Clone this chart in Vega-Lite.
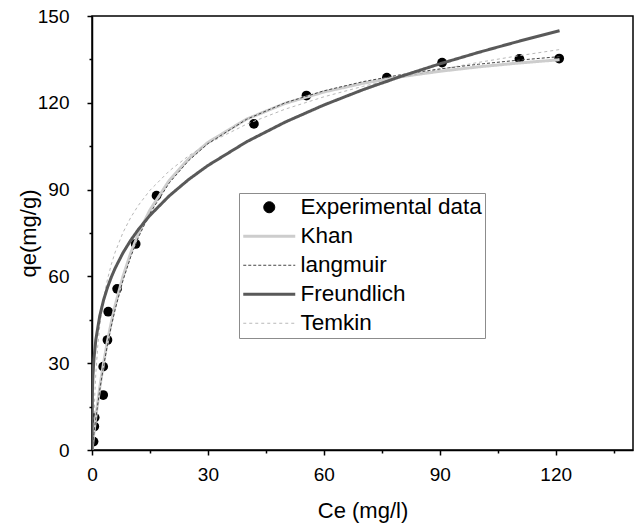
{
  "$schema": "https://vega.github.io/schema/vega-lite/v6.json",
  "width": 541,
  "height": 434,
  "autosize": {"type": "none"},
  "padding": {"left": 92, "top": 16, "right": 5, "bottom": 76},
  "background": "white",
  "config": {
    "view": {"stroke": "black", "strokeWidth": 1.5},
    "font": "Liberation Sans",
    "axis": {
      "domainColor": "black", "domainWidth": 1.5, "tickColor": "black", "tickWidth": 1.5,
      "labelFont": "Liberation Sans", "labelFontSize": 19, "labelColor": "black",
      "titleFont": "Liberation Sans", "titleFontSize": 22, "titleFontWeight": "normal", "titleColor": "black",
      "grid": false, "labelFlush": false, "labelOverlap": false
    }
  },
  "datasets": {
    "pts": [
      {"Ce": 0.4, "qe": 2.9}, {"Ce": 0.6, "qe": 8.1}, {"Ce": 0.7, "qe": 11.2},
      {"Ce": 2.9, "qe": 19.0}, {"Ce": 2.9, "qe": 28.8}, {"Ce": 4.0, "qe": 38.0},
      {"Ce": 4.2, "qe": 47.8}, {"Ce": 6.5, "qe": 55.7}, {"Ce": 11.3, "qe": 71.2},
      {"Ce": 16.7, "qe": 87.9}, {"Ce": 41.9, "qe": 112.7}, {"Ce": 55.5, "qe": 122.5},
      {"Ce": 76.3, "qe": 128.7}, {"Ce": 90.6, "qe": 133.9}, {"Ce": 110.6, "qe": 135.2},
      {"Ce": 120.9, "qe": 135.3}
    ],
    "fits": [
      {"series": "Khan", "Ce": 0, "qe": 0}, {"series": "Khan", "Ce": 0.1, "qe": 1.25}, {"series": "Khan", "Ce": 0.25, "qe": 3.08},
      {"series": "Khan", "Ce": 0.5, "qe": 6.03}, {"series": "Khan", "Ce": 1, "qe": 11.59}, {"series": "Khan", "Ce": 2, "qe": 21.5},
      {"series": "Khan", "Ce": 3, "qe": 30.07}, {"series": "Khan", "Ce": 4, "qe": 37.55}, {"series": "Khan", "Ce": 5, "qe": 44.14},
      {"series": "Khan", "Ce": 6, "qe": 49.99}, {"series": "Khan", "Ce": 8, "qe": 59.9}, {"series": "Khan", "Ce": 10, "qe": 68.0},
      {"series": "Khan", "Ce": 12, "qe": 74.73}, {"series": "Khan", "Ce": 15, "qe": 82.95}, {"series": "Khan", "Ce": 20, "qe": 93.19},
      {"series": "Khan", "Ce": 25, "qe": 100.64}, {"series": "Khan", "Ce": 30, "qe": 106.31}, {"series": "Khan", "Ce": 40, "qe": 114.36},
      {"series": "Khan", "Ce": 50, "qe": 119.81}, {"series": "Khan", "Ce": 60, "qe": 123.74}, {"series": "Khan", "Ce": 70, "qe": 126.71},
      {"series": "Khan", "Ce": 80, "qe": 129.03}, {"series": "Khan", "Ce": 90, "qe": 130.89}, {"series": "Khan", "Ce": 100, "qe": 132.42},
      {"series": "Khan", "Ce": 110, "qe": 133.7}, {"series": "Khan", "Ce": 121, "qe": 134.89},

      {"series": "Temkin", "Ce": 0.32, "qe": 0.11}, {"series": "Temkin", "Ce": 0.4, "qe": 5.31}, {"series": "Temkin", "Ce": 0.5, "qe": 10.51},
      {"series": "Temkin", "Ce": 0.75, "qe": 19.96}, {"series": "Temkin", "Ce": 1, "qe": 26.66}, {"series": "Temkin", "Ce": 1.5, "qe": 36.11},
      {"series": "Temkin", "Ce": 2, "qe": 42.81}, {"series": "Temkin", "Ce": 3, "qe": 52.26}, {"series": "Temkin", "Ce": 4, "qe": 58.96},
      {"series": "Temkin", "Ce": 5, "qe": 64.16}, {"series": "Temkin", "Ce": 6, "qe": 68.41}, {"series": "Temkin", "Ce": 8, "qe": 75.11},
      {"series": "Temkin", "Ce": 10, "qe": 80.31}, {"series": "Temkin", "Ce": 12, "qe": 84.56}, {"series": "Temkin", "Ce": 15, "qe": 89.76},
      {"series": "Temkin", "Ce": 20, "qe": 96.46}, {"series": "Temkin", "Ce": 25, "qe": 101.66}, {"series": "Temkin", "Ce": 30, "qe": 105.91},
      {"series": "Temkin", "Ce": 40, "qe": 112.61}, {"series": "Temkin", "Ce": 50, "qe": 117.81}, {"series": "Temkin", "Ce": 60, "qe": 122.06},
      {"series": "Temkin", "Ce": 70, "qe": 125.65}, {"series": "Temkin", "Ce": 80, "qe": 128.76}, {"series": "Temkin", "Ce": 90, "qe": 131.51},
      {"series": "Temkin", "Ce": 100, "qe": 133.96}, {"series": "Temkin", "Ce": 110, "qe": 136.18}, {"series": "Temkin", "Ce": 121, "qe": 138.4},

      {"series": "langmuir", "Ce": 0, "qe": 0}, {"series": "langmuir", "Ce": 0.1, "qe": 1.19}, {"series": "langmuir", "Ce": 0.25, "qe": 2.94},
      {"series": "langmuir", "Ce": 0.5, "qe": 5.77}, {"series": "langmuir", "Ce": 1, "qe": 11.11}, {"series": "langmuir", "Ce": 2, "qe": 20.69},
      {"series": "langmuir", "Ce": 3, "qe": 29.03}, {"series": "langmuir", "Ce": 4, "qe": 36.36}, {"series": "langmuir", "Ce": 5, "qe": 42.86},
      {"series": "langmuir", "Ce": 6, "qe": 48.65}, {"series": "langmuir", "Ce": 8, "qe": 58.54}, {"series": "langmuir", "Ce": 10, "qe": 66.67},
      {"series": "langmuir", "Ce": 12, "qe": 73.47}, {"series": "langmuir", "Ce": 15, "qe": 81.82}, {"series": "langmuir", "Ce": 20, "qe": 92.31},
      {"series": "langmuir", "Ce": 25, "qe": 100.0}, {"series": "langmuir", "Ce": 30, "qe": 105.88}, {"series": "langmuir", "Ce": 40, "qe": 114.29},
      {"series": "langmuir", "Ce": 50, "qe": 120.0}, {"series": "langmuir", "Ce": 60, "qe": 124.14}, {"series": "langmuir", "Ce": 70, "qe": 127.27},
      {"series": "langmuir", "Ce": 80, "qe": 129.73}, {"series": "langmuir", "Ce": 90, "qe": 131.71}, {"series": "langmuir", "Ce": 100, "qe": 133.33},
      {"series": "langmuir", "Ce": 110, "qe": 134.69}, {"series": "langmuir", "Ce": 121, "qe": 135.96},

      {"series": "Freundlich", "Ce": 0, "qe": 0}, {"series": "Freundlich", "Ce": 0.0001, "qe": 2.95}, {"series": "Freundlich", "Ce": 0.001, "qe": 5.6},
      {"series": "Freundlich", "Ce": 0.01, "qe": 10.62}, {"series": "Freundlich", "Ce": 0.05, "qe": 16.61}, {"series": "Freundlich", "Ce": 0.1, "qe": 20.14},
      {"series": "Freundlich", "Ce": 0.25, "qe": 25.98}, {"series": "Freundlich", "Ce": 0.5, "qe": 31.5}, {"series": "Freundlich", "Ce": 1, "qe": 38.2},
      {"series": "Freundlich", "Ce": 2, "qe": 46.32}, {"series": "Freundlich", "Ce": 3, "qe": 51.85}, {"series": "Freundlich", "Ce": 4, "qe": 56.16},
      {"series": "Freundlich", "Ce": 5, "qe": 59.76}, {"series": "Freundlich", "Ce": 6, "qe": 62.86}, {"series": "Freundlich", "Ce": 8, "qe": 68.1},
      {"series": "Freundlich", "Ce": 10, "qe": 72.45}, {"series": "Freundlich", "Ce": 12, "qe": 76.22}, {"series": "Freundlich", "Ce": 15, "qe": 81.1},
      {"series": "Freundlich", "Ce": 20, "qe": 87.85}, {"series": "Freundlich", "Ce": 25, "qe": 93.48}, {"series": "Freundlich", "Ce": 30, "qe": 98.33},
      {"series": "Freundlich", "Ce": 40, "qe": 106.52}, {"series": "Freundlich", "Ce": 50, "qe": 113.34}, {"series": "Freundlich", "Ce": 60, "qe": 119.23},
      {"series": "Freundlich", "Ce": 70, "qe": 124.46}, {"series": "Freundlich", "Ce": 80, "qe": 129.16}, {"series": "Freundlich", "Ce": 90, "qe": 133.46},
      {"series": "Freundlich", "Ce": 100, "qe": 137.41}, {"series": "Freundlich", "Ce": 110, "qe": 141.1}, {"series": "Freundlich", "Ce": 121, "qe": 144.91}
    ]
  },
  "layer": [
    {
      "data": {"name": "pts"},
      "mark": {"type": "point", "filled": true, "shape": "circle", "size": 95, "color": "black", "opacity": 1, "clip": true},
      "encoding": {
        "x": {"field": "Ce", "type": "quantitative", "scale": {"domain": [0, 140], "nice": false, "zero": false},
          "axis": {"title": "Ce (mg/l)", "values": [0, 15, 30, 45, 60, 75, 90, 105, 120, 135],
            "labelExpr": "datum.value % 30 === 0 ? datum.label : ''",
            "tickSize": {"condition": {"test": "datum.value % 30 === 0", "value": 5}, "value": 3},
            "labelPadding": 10, "titlePadding": 16}},
        "y": {"field": "qe", "type": "quantitative", "scale": {"domain": [0, 150], "nice": false, "zero": false},
          "axis": {"title": "qe(mg/g)", "values": [0, 15, 30, 45, 60, 75, 90, 105, 120, 135, 150],
            "labelExpr": "datum.value % 30 === 0 ? datum.label : ''",
            "tickSize": {"condition": {"test": "datum.value % 30 === 0", "value": 5}, "value": 3},
            "labelPadding": 18, "titleX": -52, "titleBaseline": "bottom"}}
      }
    },
    {
      "data": {"name": "fits"},
      "mark": {"type": "line", "clip": true},
      "encoding": {
        "x": {"field": "Ce", "type": "quantitative"},
        "y": {"field": "qe", "type": "quantitative"},
        "color": {"field": "series", "type": "nominal",
          "scale": {"domain": ["Experimental data", "Khan", "langmuir", "Freundlich", "Temkin"],
                    "range": ["#000000", "#cdcdcd", "#444444", "#595959", "#b8b8b8"]},
          "legend": {
            "orient": "none", "legendX": 147, "legendY": 177, "title": null, "direction": "vertical",
            "labelFontSize": 22.5, "labelFont": "Liberation Sans", "labelColor": "black",
            "labelOffset": 36, "rowPadding": 6, "padding": 3, "labelLimit": 400,
            "strokeColor": "#8c8c8c", "fillColor": "white", "symbolSize": 100,
            "encode": {
              "symbols": {
                "update": {
                  "shape": {"signal": "datum.value === 'Experimental data' ? 'M2.1,0A1.1,1.1,0,1,1,4.3,0A1.1,1.1,0,1,1,2.1,0Z' : 'M-2,0H8.4'"},
                  "size": {"value": 100},
                  "fill": {"signal": "datum.value === 'Experimental data' ? '#000000' : 'transparent'"},
                  "stroke": {"signal": "datum.value === 'Experimental data' ? '#000000' : datum.value === 'Khan' ? '#cdcdcd' : datum.value === 'langmuir' ? '#444444' : datum.value === 'Freundlich' ? '#595959' : '#b8b8b8'"},
                  "strokeWidth": {"signal": "datum.value === 'Khan' || datum.value === 'Freundlich' ? 3 : datum.value === 'Experimental data' ? 0.5 : 1"},
                  "strokeDash": {"signal": "datum.value === 'langmuir' ? [3, 2] : datum.value === 'Temkin' ? [3, 3] : [1, 0]"},
                  "opacity": {"value": 1}
                }
              }
            }
          }
        },
        "strokeDash": {"field": "series", "type": "nominal", "legend": null,
          "scale": {"domain": ["Experimental data", "Khan", "langmuir", "Freundlich", "Temkin"],
                    "range": [[1, 0], [1, 0], [3, 2], [1, 0], [3, 3]]}},
        "strokeWidth": {"field": "series", "type": "nominal", "legend": null,
          "scale": {"type": "ordinal", "domain": ["Experimental data", "Khan", "langmuir", "Freundlich", "Temkin"],
                    "range": [1, 3, 1, 3, 1]}}
      }
    }
  ]
}
